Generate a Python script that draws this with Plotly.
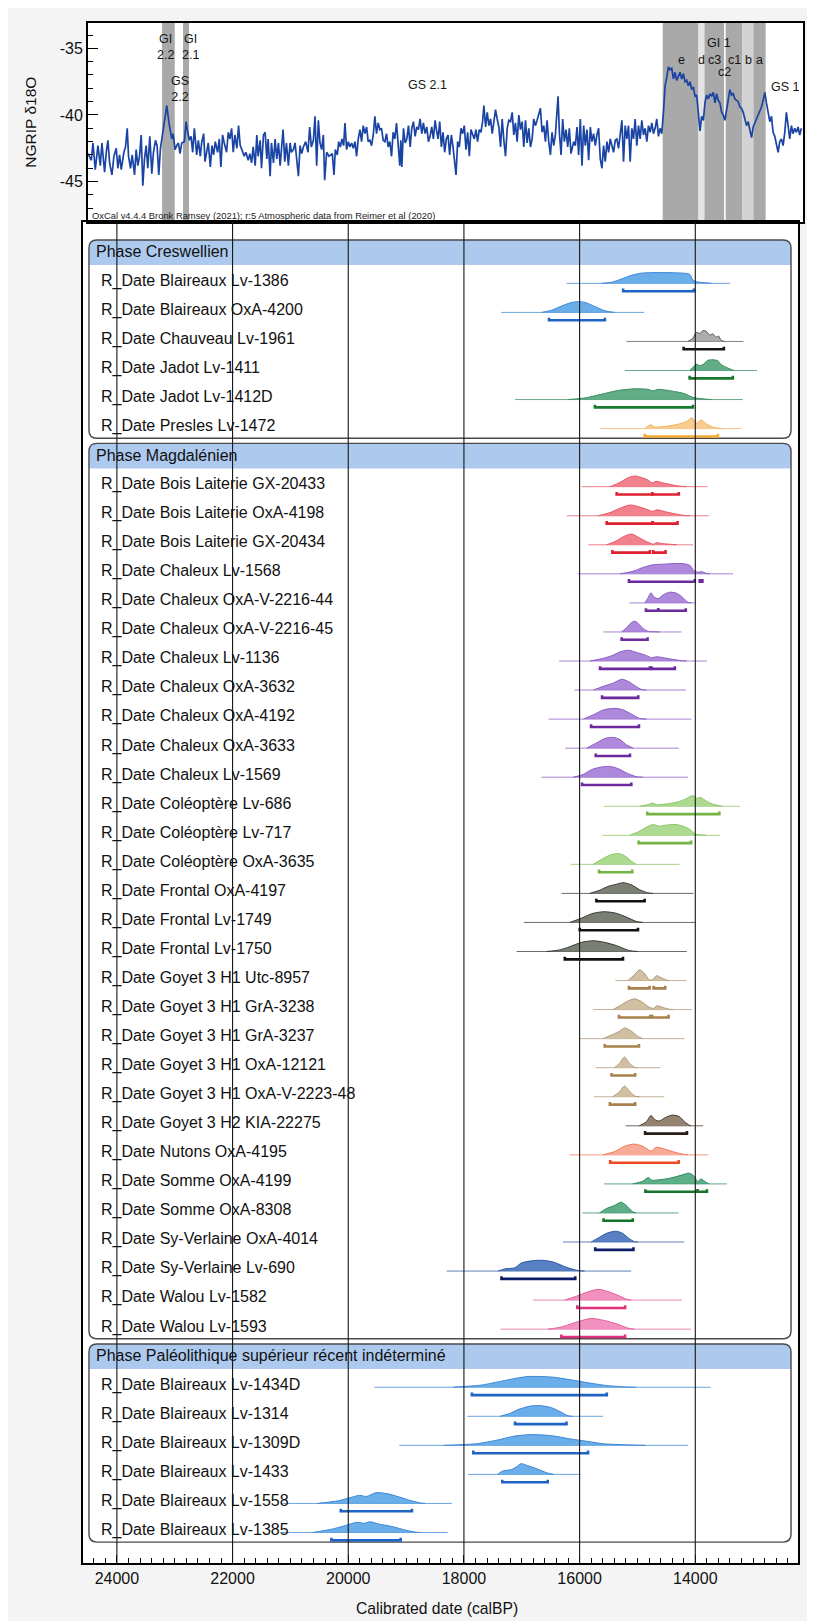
import plotly.graph_objects as go

# ---------------- NGRIP d18O record ----------------
ngrip_year = [
    24552, 24495, 24466, 24426, 24380, 24339, 24311, 24265, 24236, 24207,
    24178, 24138, 24104, 24064, 24035, 24006, 23977, 23931, 23903, 23874,
    23851, 23816, 23788, 23747, 23719, 23690, 23661, 23632, 23604, 23575,
    23546, 23518, 23483, 23449, 23420, 23385, 23357, 23328, 23299, 23259,
    23219, 23190, 23155, 23127, 23104, 23081, 23046, 23018, 22989, 22960,
    22931, 22885, 22857, 22828, 22799, 22770, 22742, 22713, 22673, 22644,
    22610, 22587, 22552, 22529, 22495, 22472, 22437, 22408, 22380, 22351,
    22311, 22282, 22254, 22225, 22196, 22156, 22127, 22098, 22069, 22041,
    22012, 21977, 21949, 21920, 21891, 21851, 21822, 21782, 21753, 21724,
    21696, 21661, 21633, 21610, 21575, 21552, 21518, 21489, 21460, 21437,
    21403, 21380, 21345, 21317, 21288, 21259, 21230, 21207, 21179, 21150,
    21121, 21087, 21058, 21035, 21000, 20972, 20943, 20914, 20885, 20857,
    20828, 20788, 20748, 20719, 20690, 20655, 20627, 20598, 20569, 20541,
    20512, 20483, 20460, 20426, 20385, 20328,
    20299, 20276, 20241, 20218, 20189, 20161, 20132, 20109, 20080, 20051,
    20023, 19994, 19965, 19936, 19908, 19879, 19850, 19822, 19793, 19764,
    19735, 19707, 19678, 19649, 19620, 19592, 19563, 19534, 19505, 19477,
    19448, 19419, 19390, 19362, 19333, 19304, 19276, 19247, 19218, 19189,
    19161, 19143, 19126, 19097, 19069, 19040, 19011, 18982, 18954, 18925,
    18896, 18867, 18839, 18810, 18781, 18753, 18724, 18695, 18666, 18638,
    18609, 18580, 18551, 18528, 18500, 18471, 18442, 18414, 18385, 18356,
    18327, 18299, 18270, 18241, 18212, 18189, 18161, 18132, 18103, 18074,
    18046, 18017, 17988, 17959, 17931, 17902, 17873, 17845, 17816, 17787,
    17758, 17730, 17707, 17678, 17649, 17621, 17592, 17563, 17534, 17506,
    17477, 17448, 17419, 17391, 17362, 17333, 17304, 17276, 17247, 17218,
    17190, 17161, 17132, 17103, 17075, 17046, 17017, 16988, 16960, 16931,
    16902, 16873, 16845, 16816, 16787, 16758, 16730, 16701, 16672, 16643,
    16615, 16586, 16557, 16529, 16500, 16471, 16442, 16425, 16402, 16373,
    16345, 16316, 16287, 16258, 16230, 16201, 16155,
    16126, 16097, 16069, 16040, 16011, 15982, 15954, 15925, 15896, 15867,
    15839, 15810, 15781, 15753, 15724, 15695, 15666, 15638, 15609, 15580,
    15551, 15523, 15494, 15465, 15436, 15408, 15379, 15350, 15321, 15293,
    15264, 15235, 15207, 15178, 15149, 15120, 15092, 15063, 15034, 15005,
    14977, 14948, 14919, 14890, 14862, 14833, 14804, 14776, 14747, 14718,
    14689, 14661, 14632, 14603, 14574, 14546, 14517, 14488, 14459, 14431,
    14402, 14373, 14344, 14316, 14287, 14258, 14230, 14201, 14172, 14143,
    14115, 14086, 14057, 14028, 14000, 13971, 13942, 13913, 13885, 13856,
    13827, 13799, 13770, 13741, 13712, 13684, 13655, 13626, 13597, 13569,
    13540, 13511, 13482, 13454, 13425, 13396, 13368, 13339, 13310, 13281,
    13253, 13224, 13195, 13166, 13138, 13109, 13080, 13051, 13023, 12994,
    12965, 12937, 12908, 12879, 12850, 12822, 12793, 12764, 12735, 12707,
    12678, 12649, 12620, 12592, 12563, 12534, 12505, 12477, 12448, 12419,
    12390, 12362, 12333, 12304, 12275, 12247, 12218,
]
ngrip_d18o = [
    -42.9, -43.4, -42.1, -44.1, -42.3, -43.8, -42.1, -44.3, -42.8, -41.9,
    -43.6, -44.5, -43.1, -42.5, -44.0, -43.0, -44.1, -42.8, -42.4, -41.0,
    -43.1, -44.0, -43.0, -44.5, -42.6, -43.8, -43.1, -41.5, -45.3, -43.3,
    -42.3, -44.0, -41.6, -44.4, -42.8, -41.9, -42.3, -44.5, -42.5, -41.3,
    -40.0, -39.3, -40.5, -41.1, -41.8, -41.4, -42.6, -42.3, -42.1, -42.9,
    -42.1, -42.0, -40.5, -41.3, -41.9, -41.6, -42.8, -41.0, -43.0, -41.9,
    -43.1, -42.1, -41.4, -43.5, -42.8, -42.1, -43.9, -42.3, -43.0, -42.0,
    -42.8, -41.8, -43.9, -41.5, -42.1, -42.8, -41.3, -41.8, -41.0, -42.8,
    -41.5, -42.5, -40.8, -42.3, -42.6, -43.1, -42.8, -43.4, -42.9, -43.6,
    -42.4, -43.8, -41.5, -43.1, -41.9, -44.0, -41.5, -41.3, -43.3, -41.8,
    -44.6, -42.1, -43.6, -41.8, -43.3, -42.1, -43.8, -42.5, -41.1, -43.5,
    -42.1, -43.8, -42.1, -42.8, -42.6, -42.1, -43.5, -44.6, -42.3, -42.9,
    -42.4, -42.0, -42.8, -40.9, -42.4, -41.9, -40.1, -43.8, -40.4, -42.1,
    -42.6, -41.5, -44.9, -42.8, -43.1, -42.9,
    -44.5, -42.6, -43.0, -42.0, -42.4, -41.8, -42.3, -40.6, -42.6, -42.0,
    -42.4, -42.1, -42.5, -42.0, -43.1, -41.8, -41.1, -42.0, -40.8, -41.4,
    -40.9, -42.0, -41.9, -42.3, -41.5, -40.1, -41.4, -40.6, -41.1, -41.0,
    -41.9, -42.0, -41.4, -42.4, -42.0, -43.1, -41.3, -41.8, -40.6, -42.5,
    -43.8, -41.9, -43.9, -41.0, -42.1, -41.8, -40.8, -42.4, -41.0, -40.5,
    -41.6, -40.9, -41.1, -40.3, -41.4, -40.6, -41.4, -40.9, -42.0, -41.6,
    -40.9, -41.8, -40.4, -41.1, -41.8, -40.5, -42.4, -41.3, -42.8, -41.8,
    -41.5, -43.0, -41.5, -42.4, -43.5, -44.5, -42.0, -42.4, -41.0, -41.4,
    -40.8, -42.6, -41.3, -43.1, -41.1, -41.4, -41.8, -41.1, -42.0, -41.1,
    -41.3, -40.5, -39.3, -40.9, -39.8, -40.8, -40.3, -41.4, -40.6, -39.6,
    -40.3, -40.9, -42.4, -40.3, -41.9, -43.1, -41.0, -40.4, -40.5, -39.8,
    -41.5, -40.6, -42.0, -40.0, -41.1, -40.5, -42.4, -40.4, -42.1, -41.0,
    -42.4, -41.8, -40.3, -40.8, -40.4, -39.9, -39.5, -41.3, -40.8, -42.0,
    -40.4, -42.0, -43.0, -41.3, -42.3, -41.5, -40.0, -38.6, -41.3, -43.0,
    -40.3, -42.0, -41.1, -42.4, -41.0, -42.9, -42.0,
    -42.3, -40.9, -43.0, -40.3, -43.8, -40.8, -42.3, -41.1, -43.4, -40.9,
    -42.0, -41.4, -42.3, -41.5, -41.0, -43.3, -44.0, -42.3, -43.5, -42.0,
    -42.8, -41.8, -42.3, -42.8, -41.9, -41.8, -42.5, -41.5, -40.4, -43.5,
    -40.8, -41.8, -40.8, -43.5, -41.0, -41.8, -40.3, -42.3, -40.8, -41.8,
    -40.4, -41.5, -41.0, -42.0, -40.8, -41.3, -40.6, -41.4, -41.0, -40.3,
    -41.6, -41.0, -41.4, -39.8, -37.8, -37.2, -36.4, -36.6, -36.5, -37.3,
    -36.8, -37.4, -37.0, -36.8, -37.3, -36.9, -37.5, -37.4, -37.8, -37.5,
    -38.1, -37.9, -38.6, -38.5, -39.8, -41.2, -40.1, -40.4, -39.1, -38.5,
    -38.8, -38.4, -38.6, -38.3, -39.1, -38.4, -38.9, -39.1, -39.8, -40.0,
    -40.4, -39.5, -38.8, -38.1, -38.5, -38.4, -38.8, -38.9, -39.0, -39.4,
    -39.5, -39.8, -40.4, -40.8, -40.5, -41.0, -41.7, -40.9, -40.6, -40.3,
    -40.0, -39.6, -39.4, -38.9, -38.3, -39.1, -39.8, -40.5, -40.1, -41.3,
    -41.6, -42.3, -42.8, -42.0, -41.8, -42.3, -41.3, -39.8, -41.0, -41.8,
    -40.8, -41.4, -41.0, -41.3, -40.9, -41.5, -41.0,
]
assert len(ngrip_year) == len(ngrip_d18o)

# Greenland stadial / interstadial bands (cal BP)
band_start = [23271, 22909, 14616, 13997, 13894, 13526, 13238, 13048]
band_end = [23052, 22805, 13997, 13894, 13554, 13238, 13048, 12836]
band_tone = ["dark", "dark", "dark", "pale", "dark", "dark", "light", "dark"]

event_text = ["GI<br>2.2", "GI<br>2.1", "GS<br>2.2", "GS 2.1", "GI 1", "e", "d", "c3",
              "c2", "c1", "b", "a", "GS 1"]
event_year = [23207, 22786, 22966, 18685, 13642, 14288, 13943, 13712,
              13540, 13368, 13138, 12936, 12500]
event_level = [-34.90, -34.90, -38.05, -37.75, -34.62, -35.88, -35.88, -35.88,
               -36.80, -35.88, -35.88, -35.88, -37.90]

tick_years = [24000, 22000, 20000, 18000, 16000, 14000]
ngrip_ticks = [-45, -40, -35]

# ---------------- OxCal phases and dates ----------------
phase_names = ["Phase Creswellien", "Phase Magdalénien",
               "Phase Paléolithique supérieur récent indéterminé"]
phase_sizes = [6, 30, 6]

date_labels = [
    "R_Date Blaireaux Lv-1386", "R_Date Blaireaux OxA-4200", "R_Date Chauveau Lv-1961",
    "R_Date Jadot Lv-1411", "R_Date Jadot Lv-1412D", "R_Date Presles Lv-1472",
    "R_Date Bois Laiterie GX-20433", "R_Date Bois Laiterie OxA-4198",
    "R_Date Bois Laiterie GX-20434", "R_Date Chaleux Lv-1568",
    "R_Date Chaleux OxA-V-2216-44", "R_Date Chaleux OxA-V-2216-45",
    "R_Date Chaleux Lv-1136", "R_Date Chaleux OxA-3632", "R_Date Chaleux OxA-4192",
    "R_Date Chaleux OxA-3633", "R_Date Chaleux Lv-1569", "R_Date Coléoptère Lv-686",
    "R_Date Coléoptère Lv-717", "R_Date Coléoptère OxA-3635", "R_Date Frontal OxA-4197",
    "R_Date Frontal Lv-1749", "R_Date Frontal Lv-1750", "R_Date Goyet 3 H1 Utc-8957",
    "R_Date Goyet 3 H1 GrA-3238", "R_Date Goyet 3 H1 GrA-3237",
    "R_Date Goyet 3 H1 OxA-12121", "R_Date Goyet 3 H1 OxA-V-2223-48",
    "R_Date Goyet 3 H2 KIA-22275", "R_Date Nutons OxA-4195", "R_Date Somme OxA-4199",
    "R_Date Somme OxA-8308", "R_Date Sy-Verlaine OxA-4014", "R_Date Sy-Verlaine Lv-690",
    "R_Date Walou Lv-1582", "R_Date Walou Lv-1593",
    "R_Date Blaireaux Lv-1434D", "R_Date Blaireaux Lv-1314", "R_Date Blaireaux Lv-1309D",
    "R_Date Blaireaux Lv-1433", "R_Date Blaireaux Lv-1558", "R_Date Blaireaux Lv-1385",
]
date_group = (["Blaireaux", "Blaireaux", "Chauveau", "Jadot", "Jadot", "Presles"]
              + ["BoisLaiterie"] * 3 + ["Chaleux"] * 8 + ["Coleoptere"] * 3
              + ["Frontal"] * 3 + ["GoyetH1"] * 5 + ["GoyetH2", "Nutons"]
              + ["Somme"] * 2 + ["SyVerlaine"] * 2 + ["Walou"] * 2 + ["Blaireaux"] * 6)

# extent of the thin likelihood line (cal BP, older, younger)
curve_lo = [16224, 17356, 15190, 15218, 17115, 15649,
            15963, 16221, 15848, 16032, 15141, 15589, 16353, 16089, 16537, 16250, 16658,
            15583, 15606, 16152, 16313, 16963, 17089, 15382, 15767, 15997, 15724, 15753,
            15207, 16172, 15580, 15954, 16287, 18299, 16805, 17368,
            19547, 17943, 19117, 17927, 21142, 21142]
curve_hi = [13397, 14885, 13167, 12931, 13178, 13207,
            13790, 13767, 14037, 13348, 14009, 14239, 13796, 14164, 14066, 14285, 14129,
            13227, 13572, 14273, 14032, 13997, 14147, 14158, 14054, 14187, 14603, 14535,
            13862, 13776, 13454, 14287, 14190, 15109, 14230, 14075,
            13733, 15595, 14122, 15984, 18211, 18283]

# calibrated probability distributions: years (cal BP) and relative probability
dens_year = [
    [15621, 15448, 15276, 15103, 14931, 14586, 14299, 14098, 14040, 13954, 13810, 13724],
    [16655, 16483, 16310, 16138, 16023, 15908, 15736, 15563, 15391],
    [14126, 14040, 13983, 13925, 13868, 13810, 13753, 13696, 13638, 13598, 13552, 13494],
    [14098, 14040, 13983, 13925, 13868, 13782, 13696, 13609, 13563, 13523, 13466, 13379, 13322],
    [16195, 15908, 15621, 15333, 15046, 14816, 14730, 14644, 14414, 14184, 14040, 13839, 13724],
    [14874, 14770, 14701, 14529, 14299, 14155, 14058, 13983, 13897, 13810, 13724, 13609, 13552],
    [15474, 15302, 15158, 15043, 14928, 14813, 14744, 14681, 14555, 14382, 14267, 14152],
    [15675, 15474, 15302, 15129, 14986, 14842, 14738, 14664, 14497, 14325, 14181, 14095],
    [15532, 15388, 15244, 15101, 14986, 14842, 14727, 14669, 14583, 14440, 14325],
    [15302, 15072, 14900, 14727, 14555, 14382, 14210, 14095, 14026, 13951, 13894, 13808, 13750],
    [14871, 14813, 14767, 14716, 14641, 14555, 14440, 14325, 14238, 14181, 14123, 14066],
    [15273, 15187, 15101, 15043, 14968, 14900, 14813, 14727, 14612],
    [15819, 15589, 15417, 15302, 15158, 15014, 14842, 14756, 14669, 14497, 14267, 14152],
    [15762, 15589, 15417, 15273, 15158, 15043, 14928, 14842],
    [15934, 15762, 15589, 15388, 15244, 15101, 14957, 14842],
    [15876, 15704, 15560, 15417, 15302, 15187, 15072],
    [16112, 15940, 15796, 15624, 15480, 15336, 15193, 15020, 14905],
    [14963, 14819, 14733, 14676, 14446, 14273, 14158, 14043, 13974, 13900, 13814, 13699, 13584, 13526],
    [15135, 14992, 14848, 14733, 14618, 14503, 14331, 14187, 14072, 14014, 13871, 13813],
    [15767, 15624, 15480, 15336, 15221, 15106, 15020],
    [15825, 15652, 15509, 15365, 15250, 15106, 14963, 14819, 14733],
    [16170, 15968, 15767, 15566, 15365, 15193, 15020, 14905],
    [16572, 16342, 16170, 15968, 15767, 15566, 15365, 15250, 15135, 14991],
    [15164, 15060, 14963, 14876, 14802, 14744, 14675, 14601, 14503, 14445],
    [15422, 15307, 15164, 15049, 14934, 14791, 14721, 14664, 14560, 14445, 14388],
    [15595, 15422, 15307, 15221, 15106, 14991, 14905],
    [15397, 15310, 15224, 15138, 15052, 14994],
    [15425, 15310, 15224, 15126, 15040, 14966],
    [14966, 14851, 14765, 14695, 14621, 14506, 14391, 14276, 14190, 14103, 14075],
    [15598, 15397, 15224, 15052, 14908, 14764, 14678, 14534, 14391, 14247, 14132],
    [15080, 14908, 14810, 14753, 14592, 14420, 14247, 14103, 14017, 13960, 13902, 13816, 13759],
    [15655, 15540, 15397, 15282, 15196, 15080, 15023],
    [15799, 15655, 15512, 15368, 15253, 15138, 15052, 14994],
    [17408, 17293, 17121, 17006, 16833, 16632, 16431, 16230, 16029, 15914],
    [16259, 16086, 15914, 15684, 15512, 15339, 15195, 15109],
    [16546, 16316, 16086, 15799, 15569, 15339, 15167, 15052],
    [18186, 17700, 17457, 17134, 16891, 16486, 16162, 15838, 15514, 15190, 15028],
    [17376, 17215, 17053, 16850, 16688, 16486, 16324, 16202, 16121],
    [18348, 17781, 17457, 17134, 16850, 16486, 16162, 15838, 15595, 15190, 14866],
    [17417, 17336, 17174, 17093, 17012, 16891, 16729, 16567, 16445],
    [20534, 20170, 19927, 19806, 19684, 19522, 19320, 19117, 18915, 18753, 18672],
    [20615, 20291, 20049, 19846, 19725, 19627, 19482, 19239, 18996, 18834, 18753],
]
dens_prob = [
    [0, 0.1, 0.4, 0.75, 0.95, 1.0, 0.97, 0.85, 0.3, 0.12, 0.05, 0],
    [0, 0.2, 0.6, 0.93, 1.0, 0.93, 0.55, 0.15, 0],
    [0, 0.3, 0.85, 0.75, 1.0, 0.95, 0.6, 0.7, 0.4, 0.5, 0.1, 0],
    [0, 0.3, 0.6, 0.45, 0.55, 0.95, 1.0, 0.9, 0.6, 0.45, 0.3, 0.1, 0],
    [0, 0.15, 0.5, 0.85, 1.0, 0.95, 0.8, 0.95, 0.8, 0.55, 0.2, 0.05, 0],
    [0, 0.35, 0.15, 0.2, 0.4, 0.65, 1.0, 0.5, 0.8, 0.45, 0.2, 0.05, 0],
    [0, 0.4, 0.85, 1.0, 0.85, 0.6, 0.35, 0.5, 0.35, 0.15, 0.05, 0],
    [0, 0.3, 0.7, 1.0, 0.85, 0.6, 0.4, 0.55, 0.35, 0.15, 0.03, 0],
    [0, 0.3, 0.75, 1.0, 0.7, 0.3, 0.05, 0.2, 0.12, 0.05, 0],
    [0, 0.25, 0.6, 0.85, 0.9, 0.95, 0.95, 0.8, 0.3, 0.15, 0.2, 0.05, 0],
    [0, 0.5, 0.95, 0.55, 0.4, 0.75, 1.0, 0.9, 0.6, 0.3, 0.05, 0],
    [0, 0.4, 0.9, 1.0, 0.7, 0.3, 0.05, 0.02, 0],
    [0, 0.25, 0.55, 0.85, 1.0, 0.8, 0.5, 0.3, 0.4, 0.25, 0.05, 0],
    [0, 0.35, 0.65, 1.0, 0.8, 0.4, 0.05, 0],
    [0, 0.4, 0.85, 1.0, 0.85, 0.45, 0.05, 0],
    [0, 0.5, 0.9, 1.0, 0.8, 0.3, 0],
    [0, 0.25, 0.7, 0.95, 1.0, 0.8, 0.4, 0.05, 0],
    [0, 0.15, 0.3, 0.15, 0.25, 0.45, 0.7, 1.0, 0.75, 0.8, 0.5, 0.2, 0.05, 0],
    [0, 0.3, 0.75, 1.0, 0.85, 0.95, 1.0, 0.8, 0.45, 0.15, 0.02, 0],
    [0, 0.45, 0.85, 1.0, 0.8, 0.3, 0],
    [0, 0.3, 0.65, 0.85, 1.0, 0.8, 0.35, 0.05, 0],
    [0, 0.4, 0.85, 1.0, 0.85, 0.5, 0.1, 0],
    [0, 0.15, 0.45, 0.85, 1.0, 0.85, 0.55, 0.3, 0.08, 0],
    [0, 0.5, 1.0, 0.65, 0.1, 0.05, 0.45, 0.3, 0.05, 0],
    [0, 0.35, 0.8, 1.0, 0.75, 0.2, 0.12, 0.35, 0.2, 0.03, 0],
    [0, 0.4, 0.7, 1.0, 0.7, 0.2, 0],
    [0, 0.4, 1.0, 0.4, 0.05, 0],
    [0, 0.45, 1.0, 0.45, 0.05, 0],
    [0, 0.35, 0.95, 0.55, 0.45, 0.8, 1.0, 0.85, 0.4, 0.05, 0],
    [0, 0.3, 0.8, 1.0, 0.8, 0.35, 0.7, 0.55, 0.3, 0.1, 0],
    [0, 0.25, 0.6, 0.35, 0.4, 0.55, 0.8, 1.0, 0.7, 0.2, 0.45, 0.15, 0],
    [0, 0.4, 0.7, 1.0, 0.7, 0.1, 0],
    [0, 0.45, 0.85, 1.0, 0.8, 0.3, 0.03, 0],
    [0, 0.2, 0.3, 0.75, 0.95, 1.0, 0.8, 0.35, 0.05, 0],
    [0, 0.3, 0.65, 1.0, 0.8, 0.45, 0.1, 0],
    [0, 0.2, 0.6, 1.0, 0.8, 0.45, 0.1, 0],
    [0, 0.2, 0.45, 0.8, 1.0, 0.95, 0.7, 0.4, 0.15, 0.03, 0],
    [0, 0.25, 0.65, 0.95, 1.0, 0.8, 0.4, 0.05, 0],
    [0, 0.15, 0.45, 0.85, 1.0, 0.9, 0.6, 0.35, 0.15, 0.05, 0],
    [0, 0.3, 0.45, 0.7, 1.0, 0.8, 0.5, 0.15, 0],
    [0, 0.25, 0.6, 0.75, 0.65, 1.0, 0.9, 0.6, 0.25, 0.05, 0],
    [0, 0.3, 0.65, 0.95, 0.85, 1.0, 0.8, 0.55, 0.2, 0.03, 0],
]

# 95.4% ranges (cal BP)
range_segs = [
    [[15247, 14023]], [[16529, 15563]], [[14201, 13506]], [[14098, 13351]],
    [[15736, 14040]], [[14874, 13609]],
    [[15359, 14744], [14744, 14285]], [[15532, 14738], [14738, 14307]],
    [[15434, 14785], [14727, 14514]], [[15147, 14009], [13923, 13877]],
    [[14853, 14641], [14641, 14164]], [[15273, 14825]],
    [[15647, 14785], [14756, 14353]], [[15612, 14986]], [[15802, 14974]],
    [[15721, 15129]], [[15957, 15106]], [[14831, 13584]], [[14980, 14072]],
    [[15664, 15089]], [[15710, 14876]], [[15997, 14991]], [[16256, 15250]],
    [[15147, 14790], [14721, 14520]], [[15319, 14779], [14744, 14462]],
    [[15566, 14974]], [[15448, 15040]], [[15477, 15040]], [[14868, 14144]],
    [[15471, 14287]], [[14862, 13960], [13960, 13799]], [[15586, 15080]],
    [[15730, 15069]], [[17351, 16075]], [[16040, 15213]], [[16316, 15213]],
    [[17862, 15530]], [[17117, 16227]], [[17838, 15854]], [[17336, 16551]],
    [[20129, 18899]], [[20291, 19093]],
]

for arr in (date_group, curve_lo, curve_hi, dens_year, dens_prob, range_segs):
    assert len(arr) == len(date_labels)
for a, b in zip(dens_year, dens_prob):
    assert len(a) == len(b)

# ---------------- styles ----------------
FONT = "Liberation Sans, Arial, sans-serif"
site_fill = {
    "Blaireaux": "rgba(84,162,230,0.88)", "Chauveau": "rgba(160,160,160,0.88)",
    "Jadot": "rgba(76,162,116,0.88)", "Presles": "rgba(248,198,132,0.9)",
    "BoisLaiterie": "rgba(240,112,126,0.88)", "Chaleux": "rgba(162,120,214,0.88)",
    "Coleoptere": "rgba(164,214,132,0.9)", "Frontal": "rgba(106,114,100,0.9)",
    "GoyetH1": "rgba(204,184,152,0.9)", "GoyetH2": "rgba(138,120,100,0.92)",
    "Nutons": "rgba(248,162,142,0.9)", "Somme": "rgba(72,164,118,0.88)",
    "SyVerlaine": "rgba(70,114,188,0.9)", "Walou": "rgba(240,130,182,0.88)",
}
site_line = {
    "Blaireaux": "#3b86d6", "Chauveau": "#555555", "Jadot": "#3c8c60",
    "Presles": "#f0b060", "BoisLaiterie": "#e85566", "Chaleux": "#8a5cc4",
    "Coleoptere": "#8cc466", "Frontal": "#3a3a3a", "GoyetH1": "#b09a78",
    "GoyetH2": "#4a3a2c", "Nutons": "#f07a5a", "Somme": "#2e8a5e",
    "SyVerlaine": "#2c5a9e", "Walou": "#e0609c",
}
site_bar = {
    "Blaireaux": "#1f63c4", "Chauveau": "#151515", "Jadot": "#18782c",
    "Presles": "#f2aa30", "BoisLaiterie": "#e0202f", "Chaleux": "#6c2a9c",
    "Coleoptere": "#74b444", "Frontal": "#111111", "GoyetH1": "#a8804c",
    "GoyetH2": "#2a1c12", "Nutons": "#f04a22", "Somme": "#16742a",
    "SyVerlaine": "#0c1c66", "Walou": "#e0307e",
}
band_colors = {"dark": "#a9a9a9", "pale": "#e4e4e4", "light": "#d2d2d2"}

# page geometry (page pixels; the browser body adds an 8 px margin)
OFF = 8
W, H = 815 - OFF, 1621 - OFF
PLOT_L, PLOT_R, PLOT_T, PLOT_B = 83, 805, 23, 1563      # page coordinates
PL, PR = PLOT_L - OFF, W - (PLOT_R - OFF)
PT, PB = PLOT_T - OFF, H - (PLOT_B - OFF)
PW, PH = W - PL - PR, H - PT - PB
MAIN_TOP_PX = 222


def px_x(px):
    return (px - PLOT_L) / PW


def px_y(py):
    return (PLOT_B - py) / PH


split = px_y(MAIN_TOP_PX)

# rows
row = 0
phase_row, date_row = [], []
for n in phase_sizes:
    phase_row.append(row)
    row += 1
    for _ in range(n):
        date_row.append(row)
        row += 1

BASE_OFF, PEAK_H, BAR_OFF, TICK_H = 0.09, 0.37, 0.36, 0.09

fig = go.Figure()

# NGRIP curve
fig.add_trace(go.Scatter(x=ngrip_year, y=ngrip_d18o, xaxis="x2", yaxis="y2",
                         mode="lines", line=dict(color="#1a44a4", width=1.7),
                         hoverinfo="skip", showlegend=False))

for i, lab in enumerate(date_labels):
    g = date_group[i]
    r = date_row[i]
    base = r + BASE_OFF
    fig.add_trace(go.Scatter(x=[curve_lo[i], curve_hi[i]], y=[base, base], mode="lines",
                             line=dict(color=site_line[g], width=1), opacity=0.75,
                             hoverinfo="skip", showlegend=False))
    ys = [base - PEAK_H * p for p in dens_prob[i]]
    fig.add_trace(go.Scatter(x=dens_year[i], y=ys, mode="lines", fill="toself",
                             fillcolor=site_fill[g],
                             line=dict(color=site_line[g], width=1, shape="spline",
                                       smoothing=0.7),
                             hoverinfo="skip", showlegend=False))
    bx, by = [], []
    yb = r + BAR_OFF
    for a, b in range_segs[i]:
        bx += [a, a, b, b, None]
        by += [yb - TICK_H, yb, yb, yb - TICK_H, None]
    fig.add_trace(go.Scatter(x=bx, y=by, mode="lines",
                             line=dict(color=site_bar[g], width=2.6),
                             hoverinfo="skip", showlegend=False))

shapes = []
# climate bands
for s, e, t in zip(band_start, band_end, band_tone):
    shapes.append(dict(type="rect", xref="x2", yref="y2 domain", x0=s, x1=e, y0=0, y1=1,
                       fillcolor=band_colors[t], line=dict(width=0), layer="below"))

# phase boxes
L, R = 24483, 12345
rx, ry = 138, 0.275
for k, pr in enumerate(phase_row):
    top = pr - 0.4
    hb = pr + 0.46
    bot = pr + phase_sizes[k] + 0.42
    band = (f"M {L - rx},{top} L {R + rx},{top} Q {R},{top} {R},{top + ry} "
            f"L {R},{hb} L {L},{hb} L {L},{top + ry} Q {L},{top} {L - rx},{top} Z")
    shapes.append(dict(type="path", xref="x", yref="y", path=band,
                       fillcolor="#adcaee", line=dict(width=0), layer="below"))
    box = (f"M {L - rx},{top} L {R + rx},{top} Q {R},{top} {R},{top + ry} "
           f"L {R},{bot - ry} Q {R},{bot} {R + rx},{bot} L {L - rx},{bot} "
           f"Q {L},{bot} {L},{bot - ry} L {L},{top + ry} Q {L},{top} {L - rx},{top} Z")
    shapes.append(dict(type="path", xref="x", yref="y", path=box,
                       line=dict(color="#4a4a4a", width=1.4), layer="below"))

# vertical grid lines over the distributions
for t in tick_years:
    shapes.append(dict(type="line", xref="x", yref="y domain", x0=t, x1=t, y0=0, y1=1,
                       line=dict(color="#161616", width=1.1), layer="above"))

annotations = []
for i, lab in enumerate(date_labels):
    annotations.append(dict(x=px_x(99), xref="paper", y=date_row[i], yref="y", text=lab,
                            showarrow=False, xanchor="left", yanchor="middle",
                            font=dict(family=FONT, size=16, color="#111111")))
for k, name in enumerate(phase_names):
    annotations.append(dict(x=px_x(94), xref="paper", y=phase_row[k], yref="y", text=name,
                            showarrow=False, xanchor="left", yanchor="middle",
                            font=dict(family=FONT, size=16, color="#111111")))
for t, yr, lv in zip(event_text, event_year, event_level):
    annotations.append(dict(x=yr, xref="x2", y=lv, yref="y2", text=t, showarrow=False,
                            xanchor="center", yanchor="middle",
                            font=dict(family=FONT, size=12.5, color="#151515")))
annotations.append(dict(x=px_x(90), xref="paper", y=px_y(216), yref="paper",
                        text="OxCal v4.4.4 Bronk Ramsey (2021); r:5 Atmospheric data from Reimer et al (2020)",
                        showarrow=False, xanchor="left", yanchor="middle",
                        font=dict(family=FONT, size=9.4, color="#222222")))
annotations.append(dict(x=px_x(30), xref="paper", y=px_y(122.5), yref="paper",
                        text="NGRIP δ18O", textangle=-90, showarrow=False,
                        xanchor="center", yanchor="middle",
                        font=dict(family=FONT, size=15.5, color="#111111")))
annotations.append(dict(x=px_x(438), xref="paper", y=px_y(1608), yref="paper",
                        text="Calibrated date (calBP)", showarrow=False,
                        xanchor="center", yanchor="middle",
                        font=dict(family=FONT, size=15.7, color="#111111")))

fig.update_layout(
    width=W, height=H,
    margin=dict(l=PL, r=PR, t=PT, b=PB),
    paper_bgcolor="#f4f4f4", plot_bgcolor="white",
    showlegend=False,
    shapes=shapes, annotations=annotations,
    xaxis=dict(domain=[0, (PW - 5) / PW], range=[24586, 12224], anchor="y",
               tickvals=tick_years, ticktext=[str(t) for t in tick_years],
               ticks="inside", ticklen=8, tickcolor="black", tickwidth=1,
               minor=dict(dtick=200, ticks="inside", ticklen=5, tickcolor="black",
                          tickwidth=1, showgrid=False),
               showgrid=False, zeroline=False, showline=True, linewidth=2,
               linecolor="black", mirror=True,
               tickfont=dict(family=FONT, size=16, color="#111111")),
    yaxis=dict(domain=[0, split], range=[45.14, -1.022], anchor="x",
               showticklabels=False, ticks="", showgrid=False, zeroline=False,
               showline=True, linewidth=2, linecolor="black", mirror=True),
    xaxis2=dict(domain=[5 / PW, 1], range=[24552, 12190], anchor="y2",
                showticklabels=False, ticks="", showgrid=False, zeroline=False,
                showline=True, linewidth=2, linecolor="black", mirror=True),
    yaxis2=dict(domain=[split, 1], range=[-48.03, -33.10], anchor="x2",
                tickvals=ngrip_ticks, ticktext=[str(t) for t in ngrip_ticks],
                ticks="inside", ticklen=10, tickcolor="black", tickwidth=1,
                minor=dict(dtick=1, ticks="inside", ticklen=5, tickcolor="black",
                           showgrid=False),
                showgrid=False, zeroline=False, showline=True, linewidth=2,
                linecolor="black", mirror=True,
                tickfont=dict(family=FONT, size=16, color="#111111")),
)

fig.write_html("out.html")
